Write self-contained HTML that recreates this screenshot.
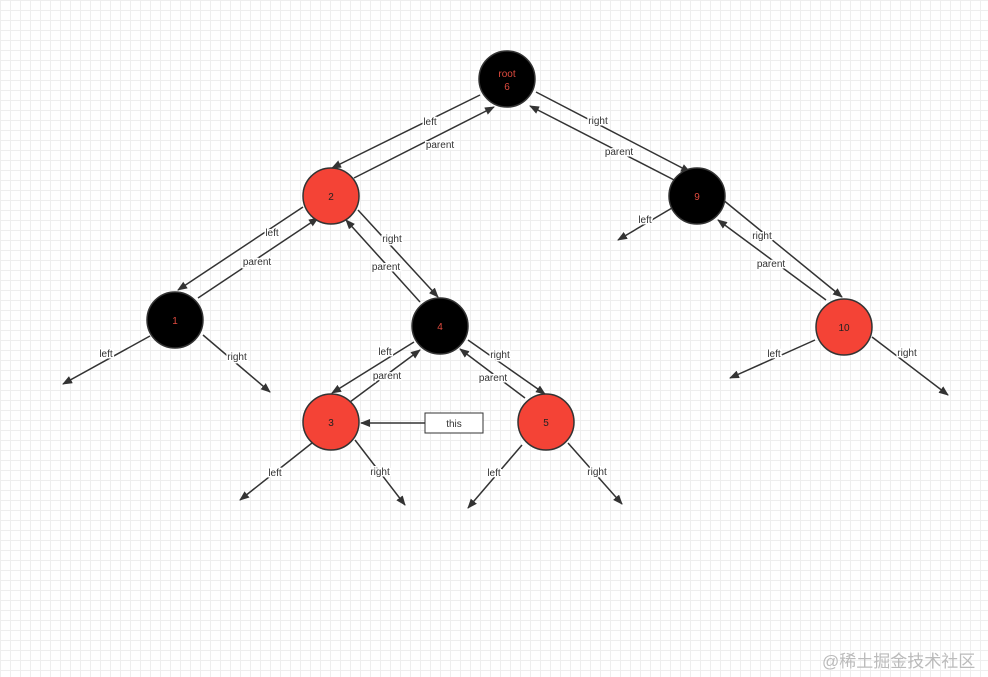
<!DOCTYPE html>
<html><head><meta charset="utf-8"><style>
html,body{margin:0;padding:0;background:#fff}
body{width:988px;height:677px;overflow:hidden;
background-image:linear-gradient(#eeeeee 1px,transparent 1px),linear-gradient(90deg,#eeeeee 1px,transparent 1px);
background-size:10px 10px;}
svg{position:absolute;left:0;top:0}
text{font-family:"Liberation Sans",sans-serif;font-size:10px}
</style></head><body>
<svg width="988" height="677" viewBox="0 0 988 677">
<defs><marker id="a" markerWidth="10" markerHeight="8" refX="9" refY="4" orient="auto" markerUnits="userSpaceOnUse"><path d="M0,0L10,4L0,8z" fill="#333"/></marker></defs>
<g stroke="#333" stroke-width="1.5" marker-end="url(#a)">
<line x1="480" y1="95" x2="332" y2="168"/>
<line x1="354" y1="178" x2="494" y2="107"/>
<line x1="536" y1="92" x2="690" y2="172"/>
<line x1="680" y1="183" x2="530" y2="106"/>
<line x1="672" y1="208" x2="618" y2="240"/>
<line x1="722" y1="199" x2="842" y2="297"/>
<line x1="826" y1="300" x2="718" y2="220"/>
<line x1="815" y1="340" x2="730" y2="378"/>
<line x1="872" y1="337" x2="948" y2="395"/>
<line x1="303" y1="207" x2="178" y2="290"/>
<line x1="198" y1="298" x2="318" y2="218"/>
<line x1="358" y1="210" x2="438" y2="297"/>
<line x1="420" y1="302" x2="346" y2="220"/>
<line x1="150" y1="336" x2="63" y2="384"/>
<line x1="203" y1="335" x2="270" y2="392"/>
<line x1="414" y1="342" x2="332" y2="393"/>
<line x1="350" y1="402" x2="420" y2="350"/>
<line x1="468" y1="340" x2="545" y2="394"/>
<line x1="525" y1="398" x2="460" y2="349"/>
<line x1="312" y1="443" x2="240" y2="500"/>
<line x1="355" y1="440" x2="405" y2="505"/>
<line x1="522" y1="445" x2="468" y2="508"/>
<line x1="568" y1="443" x2="622" y2="504"/>
<line x1="425" y1="423" x2="361" y2="423"/>
</g>
<rect x="425" y="413" width="58" height="20" fill="#fff" stroke="#333"/>
<text x="454" y="427" text-anchor="middle" fill="#333">this</text>
<g stroke="#333" stroke-width="1.5">
<circle cx="507" cy="79" r="28" fill="#000"/>
<circle cx="331" cy="196" r="28" fill="#f44336"/>
<circle cx="697" cy="196" r="28" fill="#000"/>
<circle cx="175" cy="320" r="28" fill="#000"/>
<circle cx="440" cy="326" r="28" fill="#000"/>
<circle cx="844" cy="327" r="28" fill="#f44336"/>
<circle cx="331" cy="422" r="28" fill="#f44336"/>
<circle cx="546" cy="422" r="28" fill="#f44336"/>
</g>
<g text-anchor="middle">
<text x="507" y="77" fill="#e04b3f">root</text><text x="507" y="90" fill="#e04b3f">6</text>
<text x="331" y="200" fill="#222">2</text>
<text x="697" y="200" fill="#e04b3f">9</text>
<text x="175" y="324" fill="#e04b3f">1</text>
<text x="440" y="330" fill="#e04b3f">4</text>
<text x="844" y="331" fill="#222">10</text>
<text x="331" y="426" fill="#222">3</text>
<text x="546" y="426" fill="#222">5</text>
</g>
<g text-anchor="middle" fill="#333" style="paint-order:stroke;font-size:11px" stroke="#fff" stroke-width="3">
<text x="430" y="125">left</text><text x="440" y="148">parent</text>
<text x="598" y="124">right</text><text x="619" y="155">parent</text>
<text x="645" y="223">left</text>
<text x="762" y="239">right</text><text x="771" y="267">parent</text>
<text x="774" y="357">left</text><text x="907" y="356">right</text>
<text x="272" y="236">left</text><text x="257" y="265">parent</text>
<text x="392" y="242">right</text><text x="386" y="270">parent</text>
<text x="106" y="357">left</text><text x="237" y="360">right</text>
<text x="385" y="355">left</text><text x="387" y="379">parent</text>
<text x="500" y="358">right</text><text x="493" y="381">parent</text>
<text x="275" y="476">left</text><text x="380" y="475">right</text>
<text x="494" y="476">left</text><text x="597" y="475">right</text>
</g>
<text x="822" y="667" fill="#bbb" style="font-family:'Liberation Sans','Noto Sans CJK SC',sans-serif;font-size:17px">@稀土掘金技术社区</text>
</svg>
</body></html>
